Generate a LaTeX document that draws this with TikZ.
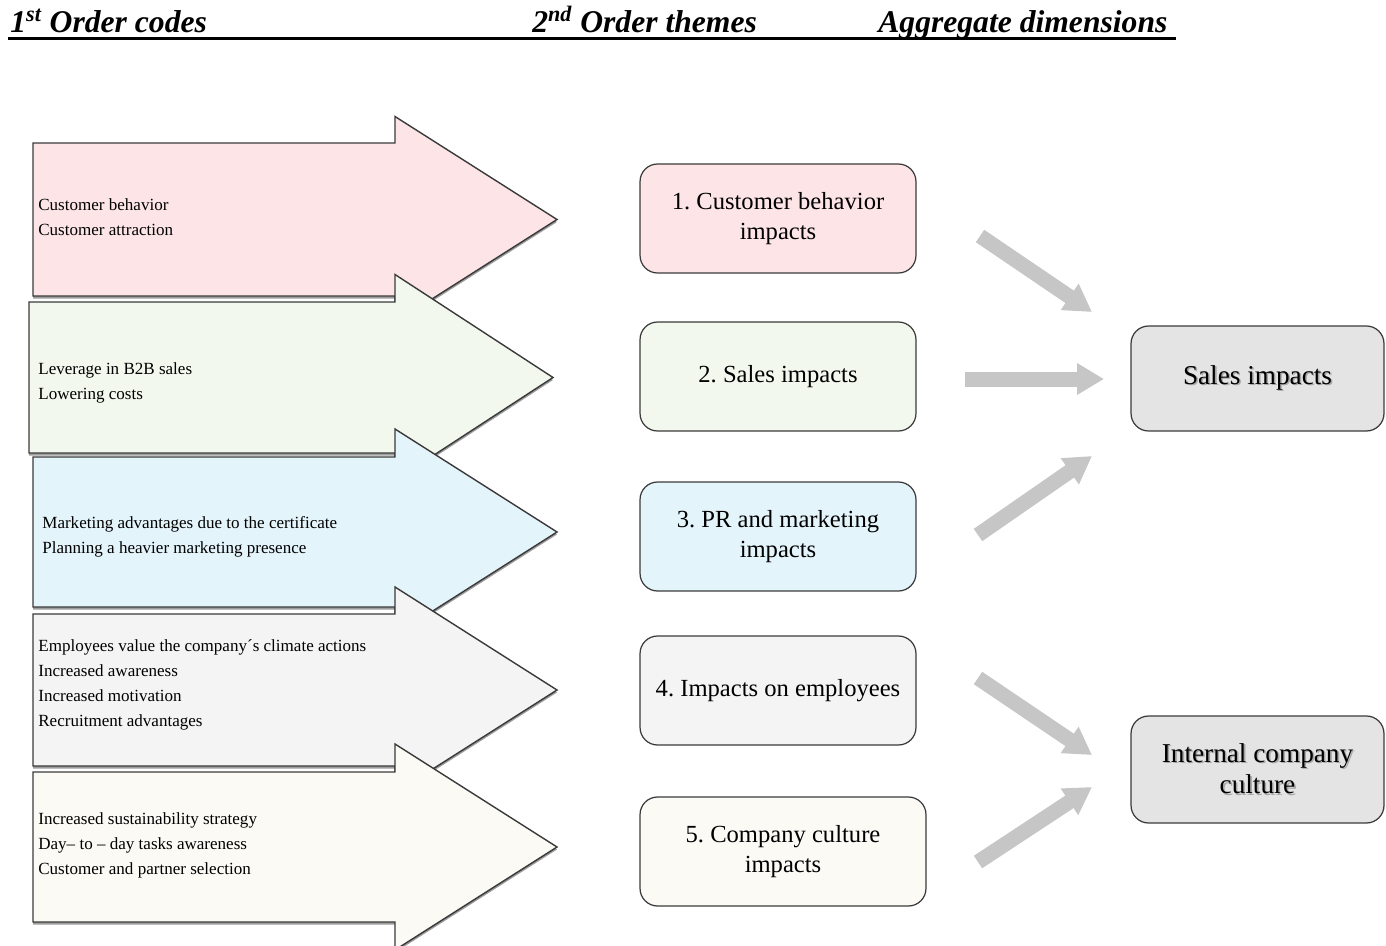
\documentclass[tikz,border=0pt]{standalone}
\usepackage{fontspec}
\setmainfont{Liberation Serif}
\usetikzlibrary{arrows.meta, shadows}
\definecolor{cPink}{HTML}{FDE5E7}
\definecolor{cGreen}{HTML}{F3F8EE}
\definecolor{cBlue}{HTML}{E4F4FB}
\definecolor{cGrey}{HTML}{F4F4F4}
\definecolor{cCream}{HTML}{FCFAF5}
\definecolor{cAgg}{HTML}{E4E4E4}
\definecolor{cLine}{HTML}{3A3A3A}
\definecolor{cFlow}{HTML}{C6C6C6}
\newcommand{\shtxt}[1]{\leavevmode\rlap{\hspace{0.9pt}\raisebox{-0.9pt}{\textcolor{black!35}{#1}}}#1}
\frenchspacing

\begin{document}
\begin{tikzpicture}[
    x=0.02cm, y=-0.02cm,
    head/.style={font=\fontsize{18}{20}\selectfont\bfseries\itshape, inner sep=0pt,
                 anchor=base west},
    code/.style={draw=cLine, line width=0.8pt,
                 drop shadow={shadow xshift=0pt, shadow yshift=-0.05cm,
                              fill=black!55, opacity=0.7}},
    codetxt/.style={font=\fontsize{9.7}{14.2}\selectfont, align=left, anchor=west,
                    inner sep=0.1cm},
    theme/.style={draw=cLine, line width=0.7pt, rounded corners=10pt,
                  minimum width=5.52cm, minimum height=2.18cm, align=center,
                  font=\fontsize{14}{17}\selectfont},
    agg/.style={theme, fill=cAgg, minimum width=5.06cm, minimum height=2.1cm,
                font=\fontsize{15.5}{18}\selectfont},
    flow/.style={-{Triangle[length=0.54cm, width=0.6cm]}, line width=0.3cm, cFlow},
]
\useasboundingbox (0,0) rectangle (1386,946);

% ===================== Header =====================
\node[head] (h1) at (10,33) {1\textsuperscript{st} Order codes};
\node[head] (h2) at (532,33) {2\textsuperscript{nd} Order themes};
\node[head] (h3) at (878,33) {Aggregate dimensions};
\draw[line width=0.06cm] (8,39) -- (1176,39);

% ===================== 1st order codes (big arrows) =====================
\draw[code, fill=cPink] (33,143) -- (395,143) -- (395,116.5) -- (557,219.5)
      -- (395,322.5) -- (395,296) -- (33,296) -- cycle;
\node[codetxt] (c1) at (33,217.5) {Customer behavior\\Customer attraction};

\draw[code, fill=cGreen] (29,302) -- (395,302) -- (395,274.5) -- (553,377.5)
      -- (395,480.5) -- (395,453) -- (29,453) -- cycle;
\node[codetxt] (c2) at (33,382.5) {Leverage in B2B sales\\Lowering costs};

\draw[code, fill=cBlue] (33,457) -- (395,457) -- (395,429) -- (557,532)
      -- (395,635) -- (395,607) -- (33,607) -- cycle;
\node[codetxt] (c3) at (37,536.5) {Marketing advantages due to the certificate\\Planning a heavier marketing presence};

\draw[code, fill=cGrey] (33,614) -- (395,614) -- (395,587) -- (557,690)
      -- (395,793) -- (395,766) -- (33,766) -- cycle;
\node[codetxt] (c4) at (33,684.5) {Employees value the company´s climate actions\\Increased awareness\\Increased motivation\\Recruitment advantages};

\draw[code, fill=cCream] (33,772) -- (395,772) -- (395,744) -- (557,847)
      -- (395,950) -- (395,922) -- (33,922) -- cycle;
\node[codetxt] (c5) at (33,845) {Increased sustainability strategy\\Day-- to -- day tasks awareness\\Customer and partner selection};

% ===================== 2nd order themes =====================
\node[theme, fill=cPink] (t1) at (778,218.5) {1. Customer behavior\\impacts};
\node[theme, fill=cGreen] (t2) at (778,376.5) {2. Sales impacts};
\node[theme, fill=cBlue] (t3) at (778,536.5) {3. PR and marketing\\impacts};
\node[theme, fill=cGrey] (t4) at (778,690.5) {4. Impacts on employees};
\node[theme, fill=cCream, minimum width=5.72cm] (t5) at (783,851.5) {5. Company culture\\impacts};

% ===================== Aggregate dimensions =====================
\node[agg] (a1) at (1257.5,378.5) {\shtxt{Sales impacts}};
\node[agg, minimum height=2.14cm] (a2) at (1257.5,769.5) {\shtxt{Internal company}\\\shtxt{culture}};

% ===================== Grey flow arrows =====================
\coordinate (f1s) at (980,236);  \coordinate (f1e) at (1092,312);
\coordinate (f2s) at (965,379);  \coordinate (f2e) at (1104,379);
\coordinate (f3s) at (978,535);  \coordinate (f3e) at (1092,456);
\coordinate (f4s) at (978,678);  \coordinate (f4e) at (1092,755);
\coordinate (f5s) at (978,862);  \coordinate (f5e) at (1092,787);
\draw[flow] (f1s) -- (f1e);
\draw[flow] (f2s) -- (f2e);
\draw[flow] (f3s) -- (f3e);
\draw[flow] (f4s) -- (f4e);
\draw[flow] (f5s) -- (f5e);

\end{tikzpicture}
\end{document}
